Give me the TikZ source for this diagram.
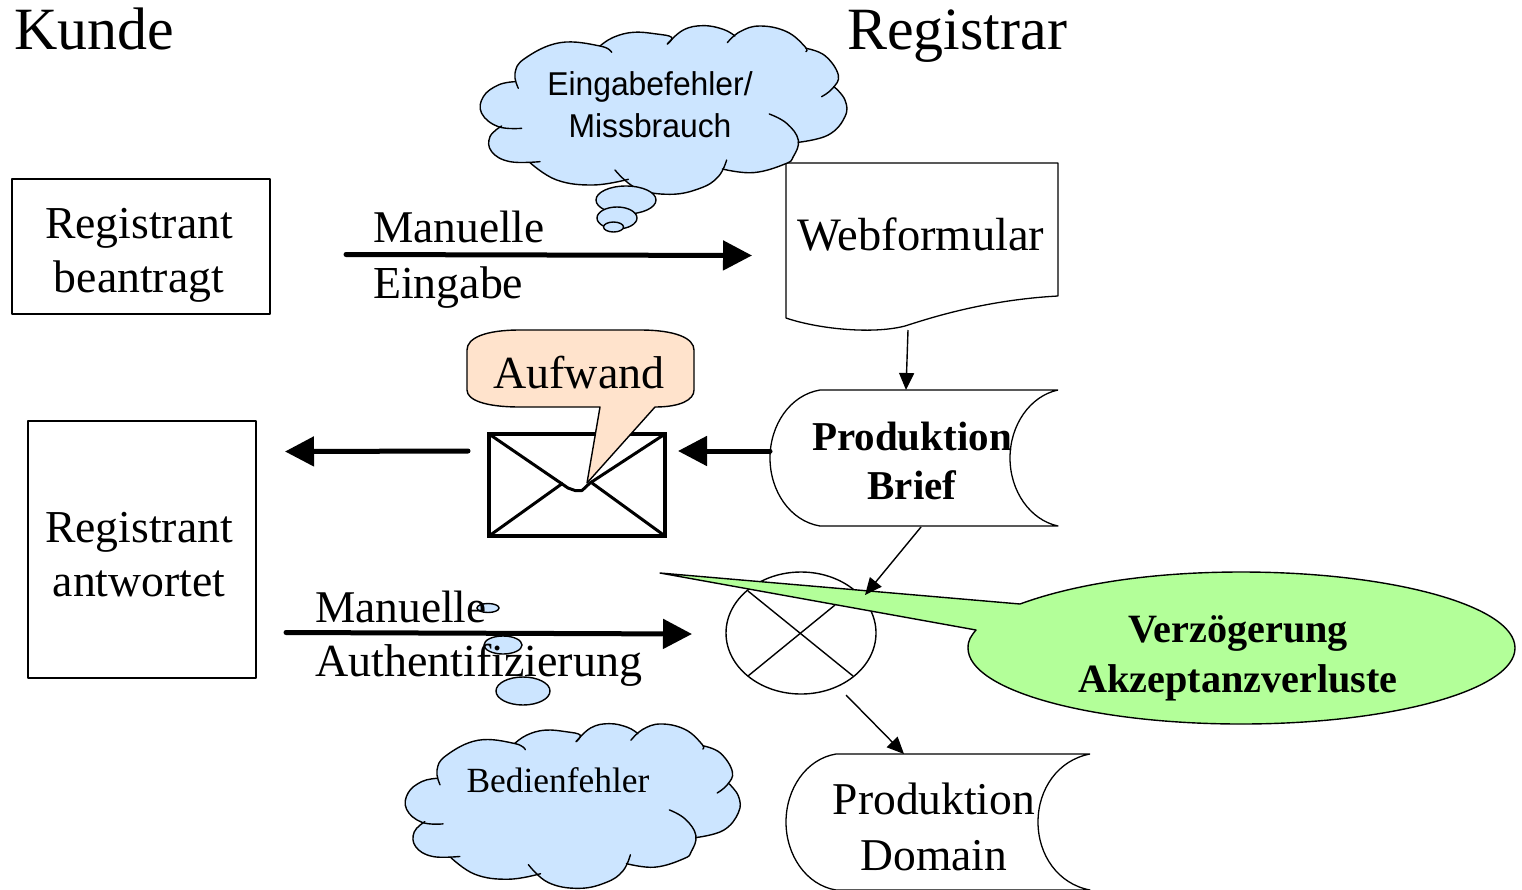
\documentclass[tikz,border=0pt]{standalone}
\usepackage{fontspec}
\setmainfont{Liberation Serif}
\setsansfont{Liberation Sans}
\usetikzlibrary{arrows.meta,shapes.geometric}
\definecolor{cloudblue}{HTML}{CCE5FF}
\definecolor{peach}{HTML}{FFE3CC}
\definecolor{lime}{HTML}{B3FF99}
\newcommand{\fs}[2]{\fontsize{#1}{#2}\selectfont}
\newcommand{\lobeA}{plot[smooth,tension=.7] coordinates {(145,205)(135,160)(165,115)(270,68)(390,78)(425,97)}}
\newcommand{\lobeB}{plot[smooth,tension=.7] coordinates {(390,78)(430,52)(490,37)(560,42)(605,52)(592,72)}}
\newcommand{\lobeC}{plot[smooth,tension=.7] coordinates {(592,72)(640,30)(700,17)(760,28)(795,48)}}
\newcommand{\lobeD}{plot[smooth,tension=.7] coordinates {(772,68)(810,35)(870,18)(950,35)(1005,80)(1008,95)}}
\newcommand{\lobeE}{plot[smooth,tension=.7] coordinates {(1008,85)(1065,107)(1105,165)(1088,205)(1055,230)}}
\newcommand{\lobeF}{plot[smooth,tension=.7] coordinates {(1092,200)(1125,240)(1125,290)(1075,345)(985,367)}}
\newcommand{\lobeG}{plot[smooth,tension=.7] coordinates {(898,282)(950,310)(985,360)(970,410)(945,432)(850,458)(757,447)}}
\newcommand{\lobeH}{plot[smooth,tension=.7] coordinates {(770,420)(745,470)(690,505)(600,523)(500,505)(435,450)}}
\newcommand{\lobeI}{plot[smooth,tension=.7] coordinates {(475,478)(370,495)(260,480)(180,428)}}
\newcommand{\lobeJ}{plot[smooth,tension=.7] coordinates {(210,425)(120,425)(65,395)(60,350)(95,318)}}
\newcommand{\lobeK}{plot[smooth,tension=.7] coordinates {(155,325)(85,320)(35,280)(40,230)(85,195)(135,185)}}
\newcommand{\drawlobe}[1]{\edef\tmppath{\noexpand\draw[thin line] #1;}\tmppath}
\newcommand{\cloudshape}{%
  \edef\tmppath{\noexpand\fill[cloudblue] \lobeA -- \lobeB -- \lobeC -- \lobeD -- \lobeE -- \lobeF -- \lobeG -- \lobeH -- \lobeI -- \lobeJ -- \lobeK -- cycle;}\tmppath
  \drawlobe{\lobeA}\drawlobe{\lobeB}\drawlobe{\lobeC}\drawlobe{\lobeD}\drawlobe{\lobeE}\drawlobe{\lobeF}
  \drawlobe{\lobeG}\drawlobe{\lobeH}\drawlobe{\lobeI}\drawlobe{\lobeJ}\drawlobe{\lobeK}}
\tikzset{
  thin line/.style={line width=1.4pt,line cap=round,line join=round},
  box/.style={draw,line width=1.3pt,inner sep=0pt,line join=round},
  bubble/.style={draw,fill=cloudblue,line width=1.4pt},
  thick arrow/.style={line width=5pt,line cap=round,-{Triangle[length=29pt,width=29pt]},shorten >=0pt},
  small arrow/.style={line width=1.4pt,-{Triangle[length=17pt,width=15pt]}},
  label text/.style={align=center,inner sep=0pt},
}
\begin{document}
\begin{tikzpicture}[x=1pt,y=-1pt]
\useasboundingbox (0,0) rectangle (1522,889);

% column titles
\node[label text,anchor=base west,font=\fs{60}{60}] (kunde) at (14,49) {Kunde};
\node[label text,anchor=base west,font=\fs{60}{60}] (registrar) at (847,49) {Registrar};

% customer boxes
\node[box,minimum width=258pt,minimum height=135pt] (beantragt) at (141,246.5) {};
\node[label text,font=\fs{45.7}{54}] (beantragtText) at (139,255) {Registrant\\beantragt};
\node[box,minimum width=228pt,minimum height=257pt] (antwortet) at (142,549.5) {};
\node[label text,font=\fs{45.7}{54}] (antwortetText) at (139,555) {Registrant\\antwortet};

% Webformular
\draw[box] (786,163) -- (1058,163) -- (1058,296) .. controls (985,300) and (930,318) .. (905,326) .. controls (870,335) and (815,328) .. (786,318) -- cycle;
\node[label text,font=\fs{46.5}{50}] (web) at (921,234) {Webformular};

% Produktion Brief
\draw[box] (1058,390) -- (820,390) .. controls (790,395) and (770,425) .. (770,458) .. controls (770,491) and (790,521) .. (820,526) -- (1058,526) .. controls (1030,520) and (1010,491) .. (1010,458) .. controls (1010,425) and (1030,396) .. (1058,390);
\node[label text,font=\fs{41}{49}\bfseries] (brief) at (912,461) {Produktion\\Brief};

% Produktion Domain
\draw[box] (1090,754) -- (836,754) .. controls (806,759) and (786,789) .. (786,822) .. controls (786,855) and (806,885) .. (836,890) -- (1090,890) .. controls (1058,884) and (1038,855) .. (1038,822) .. controls (1038,789) and (1058,760) .. (1090,754);
\node[label text,font=\fs{45.5}{56}] (domain) at (934,827) {Produktion\\Domain};

% envelope
\draw[line width=3.5pt,line join=miter] (489,434) rectangle (665,536);
\draw[line width=3pt,line join=round] (489,434) -- (568,488) -- (575,490.5) -- (582,490.5) -- (590,483) -- (665,434);
\draw[line width=3pt] (489,536) -- (563,483);
\draw[line width=3pt] (665,536) -- (592,483);

% Aufwand callout
\draw[fill=peach,line width=1.4pt,line join=round] (600,407) -- (587,483) -- (655,407)
  .. controls (680,407) and (694,400) .. (694,390) -- (694,350)
  .. controls (694,338) and (675,330) .. (640,330) -- (520,330)
  .. controls (485,330) and (467,338) .. (467,350) -- (467,390)
  .. controls (467,400) and (485,407) .. (520,407) -- cycle;
\node[label text,font=\fs{46}{50}] (aufwand) at (579,373) {Aufwand};

% top cloud
\begin{scope}[shift={(470,20)},xscale=.3333,yscale=.3333]
\cloudshape
\end{scope}
\draw[bubble] (626,200) ellipse [x radius=30,y radius=14];
\draw[bubble] (617,218) ellipse [x radius=20,y radius=11];
\draw[bubble] (613.5,227) ellipse [x radius=10,y radius=5];
\node[label text,xscale=.965,font=\fs{33}{42}\sffamily] (eingabe) at (650,105) {Eingabefehler/\\Missbrauch};

% bottom cloud
\begin{scope}[shift={(395.9,718.1)},xscale=.3045,yscale=.3255]
\cloudshape
\end{scope}
\draw[bubble] (488,608) ellipse [x radius=11,y radius=4.5];
\draw[bubble] (503,645) ellipse [x radius=19,y radius=9];
\draw[bubble] (523,691) ellipse [x radius=27,y radius=14];
\node[label text,font=\fs{35.4}{40}] (bedien) at (558,780) {Bedienfehler};

% decision circle
\node[draw,ellipse,line width=1.4pt,minimum width=150pt,minimum height=122pt,inner sep=0pt] (xor) at (801,633) {};
\draw[thin line] (748,591) -- (853,676);
\draw[thin line] (748,676) -- (835,605);

% green callout
\draw[fill=lime,line width=1.4pt,line join=round] (660,573) -- (1020,604)
  .. controls (1080,582) and (1160,572) .. (1241,572)
  .. controls (1392,572) and (1515,606) .. (1515,648)
  .. controls (1515,690) and (1392,724) .. (1241,724)
  .. controls (1090,724) and (968,690) .. (968,648)
  .. controls (968,640) and (971,636) .. (976,630) -- cycle;
\node[label text,font=\fs{40.2}{50}\bfseries] (verz) at (1238,658) {Verzögerung\\Akzeptanzverluste};

% arrow labels
\node[label text,anchor=base west,font=\fs{45.4}{50}] (m1) at (373,242) {Manuelle};
\node[label text,anchor=base west,font=\fs{45.8}{50}] (e1) at (373,298) {Eingabe};
\node[label text,anchor=base west,font=\fs{45.4}{50}] (m2) at (315,622) {Manuelle};
\node[label text,anchor=base west,font=\fs{46}{50}] (a2) at (315,676) {Authentifizierung};

% connector end points
\coordinate (a1s) at (346,254.5);
\coordinate (a1e) at (752,255.5);
\coordinate (a2s) at (286,632.5);
\coordinate (a2e) at (692,634);
\coordinate (b1s) at (770,451);
\coordinate (b1e) at (678,451);
\coordinate (b2s) at (468,451);
\coordinate (b2e) at (285,451.5);
\coordinate (c1s) at (908,330);
\coordinate (c1e) at (906,390);
\coordinate (c2s) at (921,527);
\coordinate (c2e) at (865,595);
\coordinate (c3s) at (846,695);
\coordinate (c3e) at (904,754);

\draw[thick arrow] (a1s) -- (a1e);
\draw[thick arrow] (a2s) -- (a2e);
\draw[thick arrow] (b1s) -- (b1e);
\draw[thick arrow] (b2s) -- (b2e);
\draw[small arrow] (c1s) -- (c1e);
\draw[small arrow] (c2s) -- (c2e);
\draw[small arrow] (c3s) -- (c3e);
\end{tikzpicture}
\end{document}
